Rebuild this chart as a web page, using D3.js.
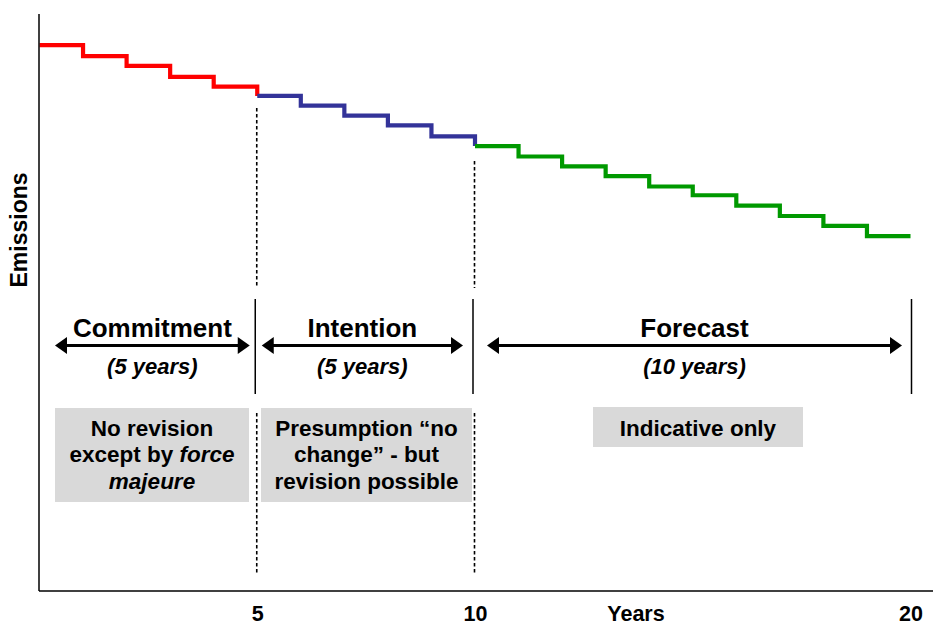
<!DOCTYPE html>
<html>
<head>
<meta charset="utf-8">
<script src="https://cdn.jsdelivr.net/npm/d3@7"></script>
<style>
    body { margin: 0; background: #fff; }
    svg text { font-family: "Liberation Sans", Arial, sans-serif; font-weight: bold; fill: #000; }
</style>
</head>
<body>
<svg id="chart" width="933" height="625"></svg>
<script>
(function() {
"use strict";

// emissions index per year, one list per phase
var commitmentYears = [0, 1, 2, 3, 4];
var commitmentValues = [100, 98.0, 96.2, 94.2, 92.4];
var intentionYears = [5, 6, 7, 8, 9];
var intentionValues = [90.7, 88.9, 87.1, 85.3, 83.3];
var forecastYears = [10, 11, 12, 13, 14, 15, 16, 17, 18, 19];
var forecastValues = [81.5, 79.6, 77.8, 76.0, 74.1, 72.5, 70.6, 68.7, 66.9, 65.0];

var phaseNames = ["Commitment", "Intention", "Forecast"];
var phaseSpans = ["(5 years)", "(5 years)", "(10 years)"];
var phaseStart = [0, 5, 10];
var phaseEnd = [5, 10, 20];

var tickYears = [5, 10, 20];

// [text, italic] segments per line
var phaseNotes = [
    [[["No revision", false]], [["except by ", false], ["force", true]], [["majeure", true]]],
    [[["Presumption \u201cno", false]], [["change\u201d - but", false]], [["revision possible", false]]],
    [[["Indicative only", false]]]
];

var width = 933, height = 625;
var origin = {x: 39, y: 591};
var colors = ["#ff0000", "#333399", "#009900"];

var svg = d3.select("#chart");

var x = d3.scaleLinear().domain([0, 20]).range([39.5, 910.5]);
var y = d3.scaleLinear().domain([0, 105.7]).range([origin.y, 14]);

// build step series, each phase carries its own drop into the next one
var series = [
    d3.zip(commitmentYears, commitmentValues).concat([[phaseEnd[0], intentionValues[0]]]),
    d3.zip(intentionYears, intentionValues).concat([[phaseEnd[1], forecastValues[0]]]),
    d3.zip(forecastYears, forecastValues).concat([[phaseEnd[2], forecastValues[forecastValues.length - 1]]])
];

// dashed guides at phase boundaries
var guides = [
    {year: 5, top: y(intentionValues[0]) + 12},
    {year: 10, top: y(forecastValues[0]) + 15}
];
guides.forEach(function(g) {
    [[g.top, 288], [413, 574]].forEach(function(seg) {
        svg.append("line")
            .attr("x1", x(g.year) - 0.5).attr("x2", x(g.year) - 0.5)
            .attr("y1", seg[0]).attr("y2", seg[1])
            .attr("stroke", "#000")
            .attr("stroke-width", 1.6)
            .attr("stroke-dasharray", "3.5,2.5");
    });
});

var line = d3.line()
    .x(function(d) { return x(d[0]); })
    .y(function(d) { return y(d[1]); })
    .curve(d3.curveStepAfter);

svg.append("g").selectAll("path")
    .data(series)
    .enter()
    .append("path")
        .attr("d", line)
        .attr("fill", "none")
        .attr("stroke", function(d, i) { return colors[i]; })
        .attr("stroke-width", 4.2);

// axes
svg.append("line")
    .attr("x1", origin.x).attr("x2", origin.x)
    .attr("y1", 14).attr("y2", origin.y)
    .attr("stroke", "#000").attr("stroke-width", 1.5);
svg.append("line")
    .attr("x1", origin.x).attr("x2", width)
    .attr("y1", origin.y).attr("y2", origin.y)
    .attr("stroke", "#000").attr("stroke-width", 1.5);

var xAxis = svg.append("g")
    .attr("transform", "translate(0," + origin.y + ")")
    .call(d3.axisBottom(x).tickValues(tickYears).tickSize(0).tickPadding(14.5).tickFormat(d3.format("d")));
xAxis.select(".domain").remove();
xAxis.selectAll("text")
    .style("font-family", "'Liberation Sans', Arial, sans-serif")
    .style("font-weight", "bold")
    .style("font-size", "21.5px")
    .attr("fill", "#000");

svg.append("text")
    .attr("x", 636).attr("y", 620.8)
    .attr("text-anchor", "middle")
    .style("font-size", "21.5px")
    .text("Years");

svg.append("text")
    .attr("transform", "translate(27,230) rotate(-90)")
    .attr("text-anchor", "middle")
    .style("font-size", "23px")
    .text("Emissions");

// phase separators
[phaseEnd[0], phaseEnd[1], phaseEnd[2]].forEach(function(yr, i) {
    svg.append("line")
        .attr("x1", x(yr) - (i < 2 ? 2 : -1)).attr("x2", x(yr) - (i < 2 ? 2 : -1))
        .attr("y1", 299).attr("y2", 394)
        .attr("stroke", "#000").attr("stroke-width", 1.5);
});

// double arrows
var arrowInset = [[15.5, 7.5], [4.5, 12], [12, 8.5]];
var arrowY = 345.5, headLen = 12, headHalf = 8.5;
var arrows = svg.append("g");
phaseNames.forEach(function(name, i) {
    var x0 = x(phaseStart[i]) + arrowInset[i][0];
    var x1 = x(phaseEnd[i]) - arrowInset[i][1];
    var cx = (x0 + x1) / 2;

    arrows.append("line")
        .attr("x1", x0 + headLen - 1).attr("x2", x1 - headLen + 1)
        .attr("y1", arrowY).attr("y2", arrowY)
        .attr("stroke", "#000").attr("stroke-width", 3);
    arrows.append("path")
        .attr("d", "M" + x0 + "," + arrowY + "L" + (x0 + headLen) + "," + (arrowY - headHalf) +
                   "L" + (x0 + headLen) + "," + (arrowY + headHalf) + "Z")
        .attr("fill", "#000");
    arrows.append("path")
        .attr("d", "M" + x1 + "," + arrowY + "L" + (x1 - headLen) + "," + (arrowY - headHalf) +
                   "L" + (x1 - headLen) + "," + (arrowY + headHalf) + "Z")
        .attr("fill", "#000");

    arrows.append("text")
        .attr("x", cx).attr("y", 337)
        .attr("text-anchor", "middle")
        .style("font-size", "26px")
        .text(name);
    arrows.append("text")
        .attr("x", cx).attr("y", 374)
        .attr("text-anchor", "middle")
        .style("font-size", "22px")
        .style("font-style", "italic")
        .text(phaseSpans[i]);
});

// note boxes
var boxes = [
    {x0: 55, x1: 249, y0: 408, y1: 502},
    {x0: 261, x1: 472, y0: 408, y1: 502},
    {x0: 593, x1: 803, y0: 407, y1: 447}
];
var lineStep = 26.5;
phaseNotes.forEach(function(lines, i) {
    var b = boxes[i];
    var cx = (b.x0 + b.x1) / 2;
    svg.append("rect")
        .attr("x", b.x0).attr("y", b.y0)
        .attr("width", b.x1 - b.x0).attr("height", b.y1 - b.y0)
        .attr("fill", "#d9d9d9");
    lines.forEach(function(segs, j) {
        var t = svg.append("text")
            .attr("x", cx).attr("y", 435.5 + j * lineStep)
            .attr("text-anchor", "middle")
            .style("font-size", "22.5px");
        segs.forEach(function(s) {
            t.append("tspan")
                .style("font-style", s[1] ? "italic" : "normal")
                .text(s[0]);
        });
    });
});

}());
</script>
</body>
</html>
